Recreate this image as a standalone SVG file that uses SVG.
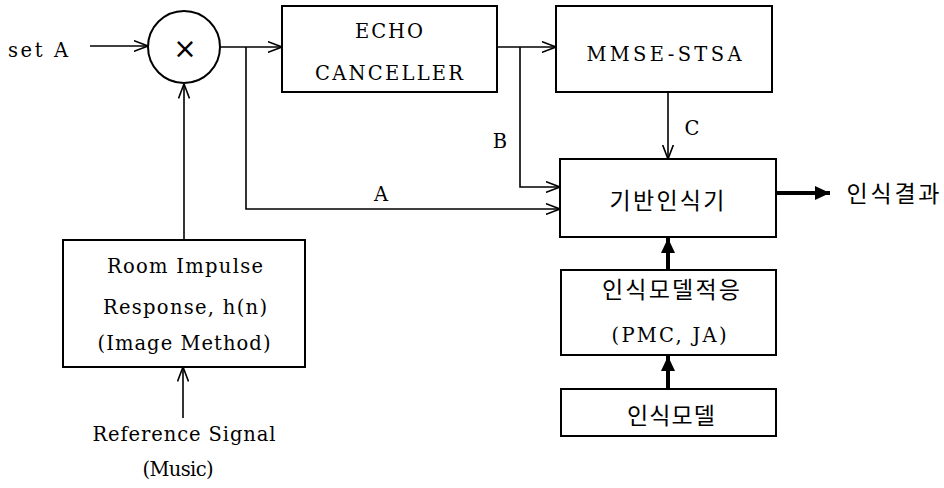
<svg xmlns="http://www.w3.org/2000/svg" width="944" height="488" viewBox="0 0 944 488">
<style>
.box{fill:#fff;stroke:#000;stroke-width:2}
.ln{fill:none;stroke:#000;stroke-width:1.6}
.thick{fill:none;stroke:#000;stroke-width:4}
.t{font-family:"DejaVu Serif","Liberation Serif",serif;font-size:19.5px;fill:#000;text-anchor:middle}
.k{font-family:"Noto Sans CJK KR","Noto Sans",sans-serif;font-size:23px;fill:#000;text-anchor:middle}
</style>
<defs>
<marker id="open" markerUnits="userSpaceOnUse" viewBox="0 0 15 12" refX="14.5" refY="6" markerWidth="15" markerHeight="12" orient="auto">
<path d="M0,0.5 L14.5,6 L0,11.5" fill="none" stroke="#000" stroke-width="1.6"/>
</marker>
<marker id="solid" markerUnits="userSpaceOnUse" viewBox="0 0 15 14" refX="15" refY="7" markerWidth="15" markerHeight="14" orient="auto">
<path d="M0,0 L15,7 L0,14 Z" fill="#000"/>
</marker>
</defs>
<g id="connectors">
<line class="ln" x1="90" y1="46" x2="148" y2="46" marker-end="url(#open)"/>
<line class="ln" x1="220" y1="47" x2="282" y2="47" marker-end="url(#open)"/>
<polyline class="ln" points="246,47 246,209 560,209" marker-end="url(#open)"/>
<line class="ln" x1="497" y1="47" x2="556" y2="47" marker-end="url(#open)"/>
<polyline class="ln" points="520,47 520,187 560,187" marker-end="url(#open)"/>
<line class="ln" x1="668" y1="92" x2="668" y2="159" marker-end="url(#open)"/>
<line class="ln" x1="184" y1="240" x2="184" y2="84" marker-end="url(#open)"/>
<line class="ln" x1="183" y1="418" x2="183" y2="367" marker-end="url(#open)"/>
<line class="thick" x1="668" y1="270" x2="668" y2="238" marker-end="url(#solid)"/>
<line class="thick" x1="668" y1="389" x2="668" y2="356" marker-end="url(#solid)"/>
<line class="thick" x1="776" y1="193" x2="830" y2="193" marker-end="url(#solid)"/>
<text class="t" x="500" y="148">B</text>
<text class="t" x="692" y="135">C</text>
<text class="t" x="381" y="201">A</text>
</g>
<g id="setA"><text class="t" x="38" y="57" textLength="60" lengthAdjust="spacing">set A</text></g>
<g id="mult">
<circle cx="184" cy="47" r="36" fill="#fff" stroke="#000" stroke-width="2"/>
<text x="185" y="58" font-family="DejaVu Sans, sans-serif" font-size="28" text-anchor="middle">×</text>
</g>
<g id="echo">
<rect class="box" x="282" y="6" width="215" height="86"/>
<text class="t" x="389" y="38" textLength="68" lengthAdjust="spacing">ECHO</text>
<text class="t" x="389" y="80" textLength="148" lengthAdjust="spacing">CANCELLER</text>
</g>
<g id="mmse">
<rect class="box" x="556" y="6" width="216" height="86"/>
<text class="t" x="664" y="61" textLength="155" lengthAdjust="spacing">MMSE-STSA</text>
</g>
<g id="recognizer">
<rect class="box" x="560" y="159" width="216" height="78"/>
<text class="k" x="667" y="209" textLength="115" lengthAdjust="spacing">기반인식기</text>
</g>
<g id="result"><text class="k" x="893" y="202" textLength="93" lengthAdjust="spacing">인식결과</text></g>
<g id="adapt">
<rect class="box" x="561" y="270" width="215" height="85"/>
<text class="k" x="671" y="298" textLength="138" lengthAdjust="spacing">인식모델적응</text>
<text class="t" x="669" y="342" textLength="115" lengthAdjust="spacing">(PMC, JA)</text>
</g>
<g id="model">
<rect class="box" x="561" y="389" width="215" height="47"/>
<text class="k" x="671" y="424" textLength="88" lengthAdjust="spacing">인식모델</text>
</g>
<g id="room">
<rect class="box" x="63" y="240" width="242" height="127"/>
<text class="t" x="185" y="273" textLength="156" lengthAdjust="spacing">Room Impulse</text>
<text class="t" x="185" y="314" textLength="164" lengthAdjust="spacing">Response, h(n)</text>
<text class="t" x="184" y="350" textLength="173" lengthAdjust="spacing">(Image Method)</text>
</g>
<g id="reference">
<text class="t" x="184" y="441" textLength="183" lengthAdjust="spacing">Reference Signal</text>
<text class="t" x="178" y="476" textLength="71" lengthAdjust="spacing">(Music)</text>
</g>
</svg>
